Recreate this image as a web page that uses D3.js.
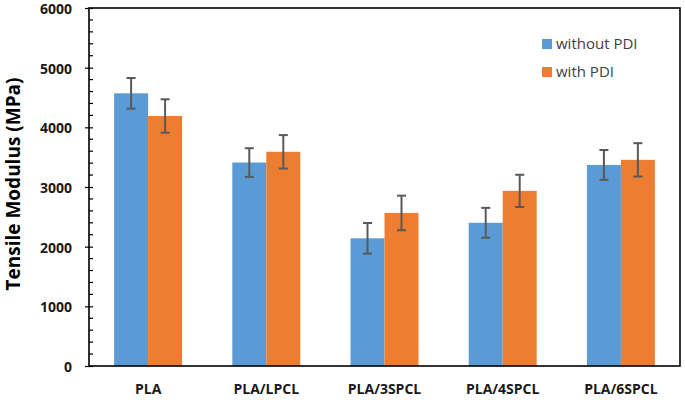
<!DOCTYPE html>
<html>
<head>
<meta charset="utf-8">
<script src="https://cdn.jsdelivr.net/npm/d3@7"></script>
<style>
  body { margin: 0; background: #fff; }
  svg { display: block; }
</style>
</head>
<body>
<div id="chart"></div>
<script>
var categories = ["PLA", "PLA/LPCL", "PLA/3SPCL", "PLA/4SPCL", "PLA/6SPCL"];
var seriesNames = ["without PDI", "with PDI"];
var withoutPDI = [4570, 3410, 2140, 2400, 3370];
var withoutPDIErr = [257, 240, 257, 250, 250];
var withPDI = [4190, 3590, 2565, 2935, 3455];
var withPDIErr = [280, 280, 290, 270, 280];
var yTicks = [0, 1000, 2000, 3000, 4000, 5000, 6000];
var colors = ["#5B9BD5", "#ED7D31"];

var svgWidth = 685;
var svgHeight = 400;
var margin = { top: 8, right: 5, bottom: 34, left: 89 };
var width = svgWidth - margin.left - margin.right;
var height = svgHeight - margin.top - margin.bottom;

var svg = d3.select("#chart")
  .append("svg")
  .attr("width", svgWidth)
  .attr("height", svgHeight);

var chartGroup = svg.append("g")
  .attr("transform", `translate(${margin.left}, ${margin.top})`);

// scales
var x0 = d3.scaleBand()
  .domain(categories)
  .range([0, width])
  .paddingInner(0.425)
  .paddingOuter(0.2125);

var x1 = d3.scaleBand()
  .domain(seriesNames)
  .range([0, x0.bandwidth()]);

var yScale = d3.scaleLinear()
  .domain([0, 6000])
  .range([height, 0]);

// build rows
var rows = categories.map(function(c, i) {
  return {
    cat: c,
    vals: [
      { name: seriesNames[0], v: withoutPDI[i], e: withoutPDIErr[i], color: colors[0] },
      { name: seriesNames[1], v: withPDI[i], e: withPDIErr[i], color: colors[1] }
    ]
  };
});

// bars
var groups = chartGroup.selectAll(".cat")
  .data(rows)
  .enter()
  .append("g")
  .attr("class", "cat")
  .attr("transform", d => `translate(${x0(d.cat)}, 0)`);

groups.selectAll("rect")
  .data(d => d.vals)
  .enter()
  .append("rect")
  .attr("x", d => x1(d.name))
  .attr("y", d => yScale(d.v))
  .attr("width", x1.bandwidth())
  .attr("height", d => height - yScale(d.v))
  .attr("fill", d => d.color);

// error bars
var capHalf = 4.5;
var errs = groups.selectAll(".err")
  .data(d => d.vals)
  .enter()
  .append("g")
  .attr("class", "err")
  .attr("stroke", "#595959")
  .attr("stroke-width", 2);

errs.append("line")
  .attr("x1", d => x1(d.name) + x1.bandwidth() / 2)
  .attr("x2", d => x1(d.name) + x1.bandwidth() / 2)
  .attr("y1", d => yScale(d.v + d.e))
  .attr("y2", d => yScale(d.v - d.e));

errs.append("line")
  .attr("x1", d => x1(d.name) + x1.bandwidth() / 2 - capHalf)
  .attr("x2", d => x1(d.name) + x1.bandwidth() / 2 + capHalf)
  .attr("y1", d => yScale(d.v + d.e))
  .attr("y2", d => yScale(d.v + d.e));

errs.append("line")
  .attr("x1", d => x1(d.name) + x1.bandwidth() / 2 - capHalf)
  .attr("x2", d => x1(d.name) + x1.bandwidth() / 2 + capHalf)
  .attr("y1", d => yScale(d.v - d.e))
  .attr("y2", d => yScale(d.v - d.e));

// minor ticks (inside)
var minorTicks = d3.range(0, 6001, 200).filter(v => v % 1000 !== 0);
chartGroup.append("g")
  .selectAll("line")
  .data(minorTicks)
  .enter()
  .append("line")
  .attr("x1", 0)
  .attr("x2", 4)
  .attr("y1", d => yScale(d))
  .attr("y2", d => yScale(d))
  .attr("stroke", "#000")
  .attr("stroke-width", 1.2);

// y axis with major ticks crossing the axis
var yAxis = d3.axisLeft(yScale)
  .tickValues(yTicks)
  .tickSizeInner(-4)
  .tickSizeOuter(0)
  .tickPadding(17)
  .tickFormat(d3.format("d"));

var yAxisG = chartGroup.append("g").call(yAxis);
yAxisG.select(".domain").remove();
yAxisG.selectAll(".tick line")
  .attr("x1", -4)
  .attr("x2", 4)
  .attr("stroke", "#000")
  .attr("stroke-width", 1.2);
yAxisG.selectAll(".tick text")
  .attr("dy", "0.4em")
  .attr("font-family", "'Open Sans', sans-serif")
  .attr("font-weight", "bold")
  .attr("font-size", "14px")
  .attr("fill", "#1a1a1a");

// x axis labels
var xAxis = d3.axisBottom(x0).tickSize(0).tickPadding(18);
var xAxisG = chartGroup.append("g")
  .attr("transform", `translate(0, ${height})`)
  .call(xAxis);
xAxisG.select(".domain").remove();
xAxisG.selectAll(".tick text")
  .attr("font-family", "'Open Sans', sans-serif")
  .attr("font-weight", "bold")
  .attr("font-size", "14px")
  .attr("fill", "#1a1a1a");

// plot frame
chartGroup.append("rect")
  .attr("x", 0)
  .attr("y", 0)
  .attr("width", width)
  .attr("height", height)
  .attr("fill", "none")
  .attr("stroke", "#000")
  .attr("stroke-width", 1.6);

// y axis title
chartGroup.append("text")
  .attr("transform", "rotate(-90)")
  .attr("x", 0 - height / 2 + 3)
  .attr("y", 0 - margin.left + 20)
  .attr("text-anchor", "middle")
  .attr("font-family", "'Open Sans', sans-serif")
  .attr("font-weight", "bold")
  .attr("font-size", "19px")
  .attr("fill", "#000")
  .text("Tensile Modulus (MPa)");

// legend
var legend = svg.append("g")
  .attr("transform", "translate(542, 39)");

var legendItems = legend.selectAll("g")
  .data(seriesNames)
  .enter()
  .append("g")
  .attr("transform", (d, i) => `translate(0, ${i * 28})`);

legendItems.append("rect")
  .attr("width", 10)
  .attr("height", 10)
  .attr("fill", (d, i) => colors[i]);

legendItems.append("text")
  .attr("x", 14)
  .attr("y", 5)
  .attr("dy", "0.35em")
  .attr("font-family", "'Open Sans', sans-serif")
  .attr("font-size", "15px")
  .attr("fill", "#404040")
  .text(d => d);
</script>
</body>
</html>
